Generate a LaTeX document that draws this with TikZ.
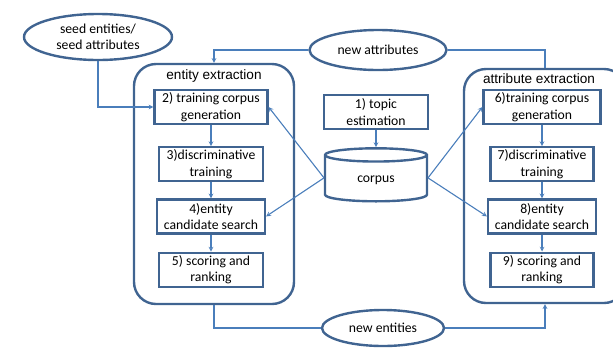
\documentclass[tikz,border=0pt]{standalone}
\usepackage{fontspec}
\setmainfont{Carlito}
\newfontfamily\arialfont{Liberation Sans}
\usepackage{tikz}
\usetikzlibrary{shapes,arrows,positioning,calc}
\definecolor{boxblue}{RGB}{64,100,145}
\definecolor{lineblue}{RGB}{74,126,187}

\begin{document}
\begin{tikzpicture}[
    x=1pt, y=-1pt,
    node distance=17pt,
    font=\fontsize{13.7}{16.5}\selectfont,
    stepbox/.style={draw=boxblue, line width=2.2pt, rectangle, minimum height=34pt, inner sep=0pt, align=center},
    group/.style={draw=boxblue, line width=2.4pt, rectangle, rounded corners=22pt},
    title/.style={font=\arialfont\fontsize{13.6}{16}\selectfont},
    oval/.style={draw=boxblue, line width=2.4pt, ellipse, inner sep=0pt, align=center},
    arrow/.style={->, draw=lineblue, line width=1.1pt, >=stealth},
    link/.style={draw=lineblue, line width=1.1pt}
]
\useasboundingbox (0,0) rectangle (613,349);
\clip (0,0) rectangle (613,349);

% Extraction groups
\node[group, minimum width=160pt, minimum height=240pt] (entbox) at (214,184) {};
\node[group, minimum width=162pt, minimum height=234pt] (attrbox) at (545,186) {};
\node[title, below=3pt of entbox.north] {entity extraction};
\node[title, below=2pt of attrbox.north, xshift=-6pt] {attribute extraction};

% Entity extraction steps
\node[stepbox, minimum width=113pt] (train1) at (211,107) {2) training corpus\\generation};
\node[stepbox, minimum width=104pt, below=21pt of train1] (disc1) {3)discriminative\\training};
\node[stepbox, minimum width=108pt, below=16pt of disc1] (search1) {4)entity\\candidate search};
\node[stepbox, minimum width=104pt, below=of search1] (score1) {5) scoring and\\ranking};

% Attribute extraction steps
\node[stepbox, minimum width=117pt] (train2) at (542,107) {6)training corpus\\generation};
\node[stepbox, minimum width=103pt, below=21pt of train2] (disc2) {7)discriminative\\training};
\node[stepbox, minimum width=108pt, below=16pt of disc2] (search2) {8)entity\\candidate search};
\node[stepbox, minimum width=103pt, below=of search2] (score2) {9) scoring and\\ranking};

% Topic and corpus
\node[stepbox, minimum width=104pt] (topic) at (376,112) {1) topic\\estimation};
\node[draw=boxblue, line width=2.4pt, cylinder, shape border rotate=90, aspect=0.3,
      minimum width=102pt, minimum height=53pt, below=17pt of topic] (corpus) {corpus};

% Seeds and results
\node[oval, minimum width=148pt, minimum height=46pt] (seed) at (98,37) {seed entities/\\seed attributes};
\node[oval, minimum width=137pt, minimum height=40pt] (newattr) at (378,50) {new attributes};
\node[oval, minimum width=122pt, minimum height=36pt] (newent) at (383,328) {new entities};

% Arrows
\draw[arrow] (seed.south) |- (train1.west);
\draw[arrow] (newattr.west) -| (entbox.north);
\draw[link] (attrbox.north) |- (newattr.east);
\draw[link] (entbox.south) |- (newent.west);
\draw[arrow] (newent.east) -| (attrbox.south);
\draw[arrow] (topic) -- (corpus);
\draw[arrow] (train1) -- (disc1);
\draw[arrow] (disc1) -- (search1);
\draw[arrow] (search1) -- (score1);
\draw[arrow] (train2) -- (disc2);
\draw[arrow] (disc2) -- (search2);
\draw[arrow] (search2) -- (score2);

\coordinate (corpusL) at ($(corpus.center)+(-52,-2)$);
\coordinate (corpusR) at ($(corpus.center)+(52,-2)$);
\draw[arrow] (corpusL) -- (train1.east);
\draw[arrow] (corpusL) -- (search1.east);
\draw[arrow] (corpusR) -- (train2.west);
\draw[arrow] (corpusR) -- (search2.west);

\end{tikzpicture}
\end{document}
